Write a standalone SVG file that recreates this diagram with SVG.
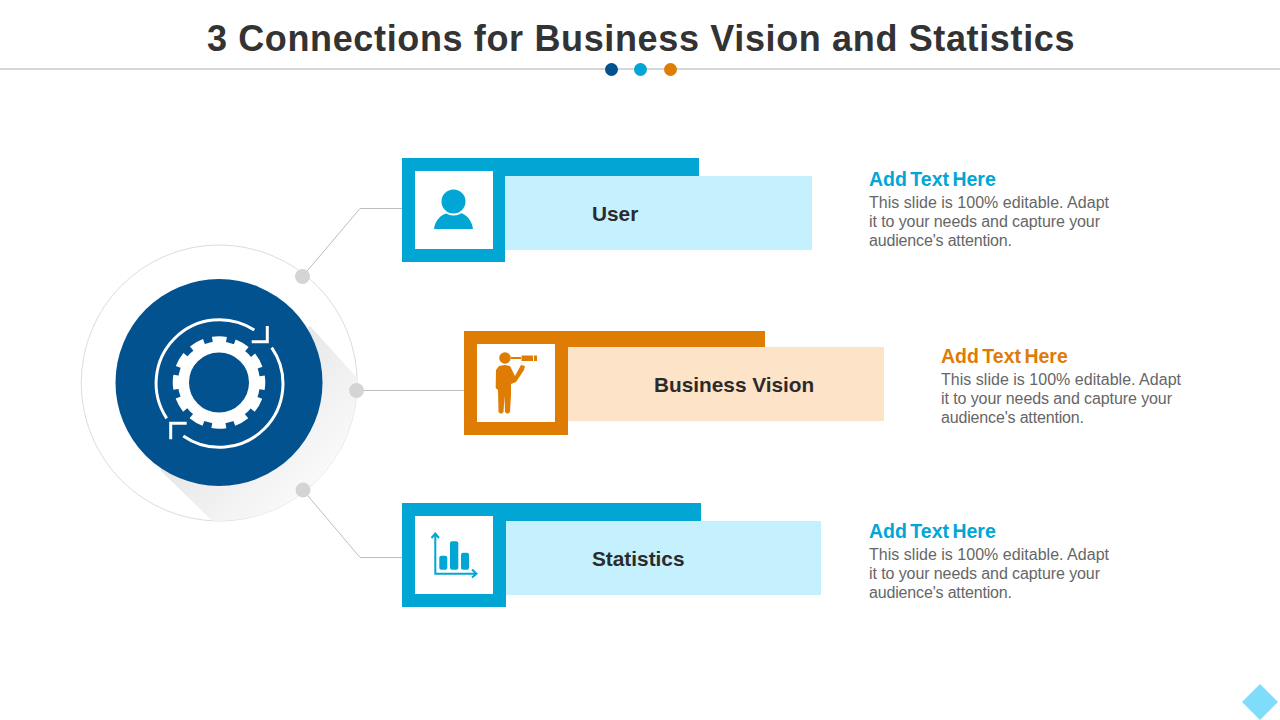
<svg xmlns="http://www.w3.org/2000/svg" width="1280" height="720" viewBox="0 0 1280 720">
<style>
text{font-family:"Liberation Sans",Arial,sans-serif}
.title{font-size:36px;font-weight:700;fill:#333333;letter-spacing:.64px}
.label{font-size:20.8px;font-weight:700;fill:#2b2b2b}
.head{font-size:19.5px;font-weight:700;word-spacing:-2px}
.body{font-size:16px;fill:#666666}
.blue{fill:#02a6d5}.orange{fill:#de7c04}.lblue{fill:#c5f1ff}.lorange{fill:#fde3c8}.white{fill:#fff}
.dot{fill:#d4d4d4}
.conn{fill:none;stroke:#bdbdbd;stroke-width:1}
.ico{fill:none;stroke:#fff;stroke-width:3}
</style>
<defs>
<linearGradient id="sh" x1="0" y1="0" x2="1" y2="1"><stop offset="0.2" stop-color="#e0e0e0"/><stop offset="0.85" stop-color="#ffffff"/></linearGradient>
<clipPath id="outer"><circle cx="219.2" cy="383" r="138"/></clipPath>
</defs>
<rect width="1280" height="720" fill="#fff"/>
<g id="header">
<text class="title" x="641" y="51" text-anchor="middle">3 Connections for Business Vision and Statistics</text>
<rect x="0" y="68" width="1280" height="2" fill="#d6d6d6"/>
<circle cx="611.5" cy="69.5" r="6.5" fill="#02528f"/>
<circle cx="640.5" cy="69.5" r="6.5" fill="#02a6d5"/>
<circle cx="670.5" cy="69.5" r="6.5" fill="#de7c04"/>
</g>
<g id="connectors">
<path class="conn" d="M302.5 276.5L360 208.5H402"/>
<path class="conn" d="M356 390.5H464"/>
<path class="conn" d="M303 490L360 557.5H402"/>
</g>
<g id="hub">
<circle cx="219.2" cy="383" r="138" fill="#fff" stroke="#dcdcdc" stroke-width="1"/>
<path d="M310 326L370 392V540H232L160 470Z" fill="url(#sh)" clip-path="url(#outer)"/>
<circle cx="302.5" cy="276.5" r="7.5" class="dot"/>
<circle cx="356.5" cy="390.5" r="7.5" class="dot"/>
<circle cx="303" cy="490" r="7.5" class="dot"/>
<circle cx="219" cy="382.5" r="103.5" fill="#02528f"/>
<circle cx="219" cy="382.5" r="35.500" fill="none" stroke="#fff" stroke-width="11"/>
<circle cx="219" cy="382.500" r="43" fill="none" stroke="#fff" stroke-width="6.500" stroke-dasharray="14 8.520" stroke-dashoffset="7"/>
<path class="ico" d="M254.3 330A63.5 63.5 0 0 0 166.7 418.3"/>
<path class="ico" d="M271.7 347.7A63.5 63.5 0 0 1 183.3 436"/>
<path class="ico" d="M251.7 341.7H267.3V326"/>
<path class="ico" d="M186.7 423.3H170.7V439.3"/>
</g>
<g id="node-user">
<rect class="lblue" x="505" y="176" width="307" height="74"/>
<rect class="blue" x="402" y="158" width="297" height="18"/>
<rect class="blue" x="402" y="158" width="103" height="104"/>
<rect class="white" x="415" y="171" width="78" height="78"/>
<path class="blue" d="M434 229C435 220 441 215 447 213H461C467 215 472 221 473 229Z"/>
<circle cx="453.5" cy="201.5" r="14" class="white"/>
<circle cx="453.5" cy="201.5" r="12" class="blue"/>
<text class="label" x="592" y="221">User</text>
</g>
<g id="node-vision">
<rect class="lorange" x="568" y="347" width="316" height="74"/>
<rect class="orange" x="464" y="331" width="301" height="16"/>
<rect class="orange" x="464" y="331" width="104" height="104"/>
<rect class="white" x="477" y="344" width="78" height="78"/>
<circle cx="505" cy="358" r="5.800" class="orange"/>
<path class="orange" d="M511 357H521V359H511ZM521.500 355.500H533V361H521.500ZM534 355.500H537V361H534Z"/>
<path class="orange" d="M499 366L505 365L510 366L515 376L521 365L525 366L524 370L516 382L511 384L511 395L510 412Q507.500 415 505 412L504.500 396L503.500 412Q501 415 498.500 412L498 390L495.700 388L496 370Z"/>
<text class="label" x="654" y="392">Business Vision</text>
</g>
<g id="node-stats">
<rect class="lblue" x="506" y="521" width="315" height="74"/>
<rect class="blue" x="402" y="503" width="299" height="18"/>
<rect class="blue" x="402" y="503" width="104" height="104"/>
<rect class="white" x="415" y="516" width="78" height="78"/>
<path d="M431.500 538L435.300 533.500L439 538M435.300 534V573.700H476M472 569.500L476.500 573.700L472 577.500" fill="none" stroke="#02a6d5" stroke-width="2"/>
<rect class="blue" x="439.300" y="555.700" width="8" height="14" rx="2"/>
<rect class="blue" x="450" y="541.300" width="8.300" height="28.400" rx="2"/>
<rect class="blue" x="461" y="552.700" width="8" height="17" rx="2"/>
<text class="label" x="592" y="566">Statistics</text>
</g>
<g id="text-user">
<text class="head" x="869" y="186" fill="#02a6d5">Add Text Here</text>
<text class="body" x="869" y="208" textLength="240">This slide is 100% editable. Adapt</text>
<text class="body" x="869" y="227" textLength="231">it to your needs and capture your</text>
<text class="body" x="869" y="246" textLength="143">audience's attention.</text>
</g>
<g id="text-vision">
<text class="head" x="941" y="363" fill="#de7c04">Add Text Here</text>
<text class="body" x="941" y="385" textLength="240">This slide is 100% editable. Adapt</text>
<text class="body" x="941" y="404" textLength="231">it to your needs and capture your</text>
<text class="body" x="941" y="423" textLength="143">audience's attention.</text>
</g>
<g id="text-stats">
<text class="head" x="869" y="538" fill="#02a6d5">Add Text Here</text>
<text class="body" x="869" y="560" textLength="240">This slide is 100% editable. Adapt</text>
<text class="body" x="869" y="579" textLength="231">it to your needs and capture your</text>
<text class="body" x="869" y="598" textLength="143">audience's attention.</text>
</g>
<path id="corner-diamond" d="M1260 684L1278 702L1260 720L1242 702Z" fill="#7fdcfb"/>
</svg>
